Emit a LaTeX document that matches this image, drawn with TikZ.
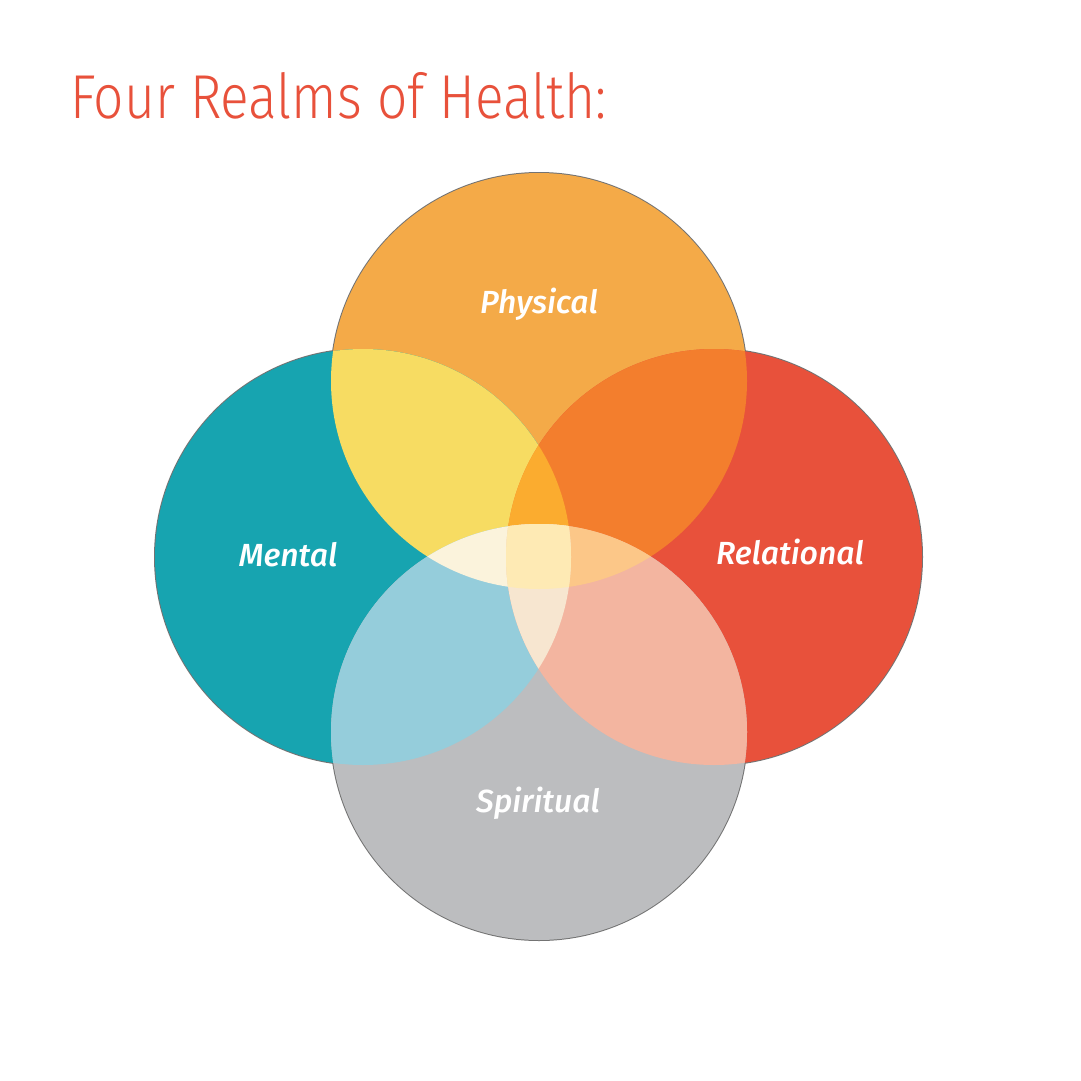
\documentclass[tikz,border=0pt]{standalone}
\usepackage{fontspec}
\usepackage{tikz}
\usepackage{xcolor}
\newfontfamily\titlefont{Fira Sans Light}[FakeStretch=0.86]
\newfontfamily\realmfont{Fira Sans Medium}
\definecolor{titlered}{HTML}{E8513B}
\definecolor{physcol}{HTML}{F4AA48}
\definecolor{mentcol}{HTML}{17A4B0}
\definecolor{relcol}{HTML}{E8513B}
\definecolor{spirincol}{HTML}{BCBDBF}
\definecolor{pmcol}{HTML}{F7DC62}
\definecolor{prcol}{HTML}{F37E2D}
\definecolor{mscol}{HTML}{95CDDB}
\definecolor{rscol}{HTML}{F3B5A0}
\definecolor{pmrcol}{HTML}{FBAC2F}
\definecolor{pmscol}{HTML}{FBF3DC}
\definecolor{prscol}{HTML}{FCC788}
\definecolor{mrscol}{HTML}{F7E6D0}
\definecolor{allcol}{HTML}{FEEAB4}
\newcommand{\rad}{208}

\begin{document}
\begin{tikzpicture}[x=1pt,y=-1pt,
    realm/.style={text=white, font=\realmfont\itshape\fontsize{32}{32}\selectfont, anchor=base}]
    \fill[white] (0,0) rectangle (1081,1081);
    \useasboundingbox (0,0) rectangle (1081,1081);

    % Centres of the four circles
    \coordinate (phys) at (539,381);
    \coordinate (ment) at (363,557);
    \coordinate (rel) at (714,557);
    \coordinate (spir) at (539,732);

    % Thin outer rims, then the plain circles
    \foreach \c in {phys,ment,rel,spir}
        \draw[gray!90!black, line width=2] (\c) circle (\rad);
    \foreach \c/\col in {phys/physcol,ment/mentcol,rel/relcol,spir/spirincol}
        \fill[\col] (\c) circle (\rad);

    % Overlap of two circles
    \foreach \a/\b/\col in {phys/ment/pmcol,phys/rel/prcol,ment/spir/mscol,rel/spir/rscol}
    {
        \begin{scope}
            \clip (\a) circle (\rad);
            \fill[\col] (\b) circle (\rad);
        \end{scope}
    }

    % Overlap of three circles
    \foreach \a/\b/\c/\col in {phys/ment/rel/pmrcol,phys/ment/spir/pmscol,phys/rel/spir/prscol,ment/rel/spir/mrscol}
    {
        \begin{scope}
            \clip (\a) circle (\rad);
            \clip (\b) circle (\rad);
            \fill[\col] (\c) circle (\rad);
        \end{scope}
    }

    % Centre: all four
    \begin{scope}
        \clip (phys) circle (\rad);
        \clip (ment) circle (\rad);
        \clip (rel) circle (\rad);
        \fill[allcol] (spir) circle (\rad);
    \end{scope}

    % Realm names
    \node[realm] (physname) at (539,313) {Physical};
    \node[realm] (mentname) at (288,566) {Mental};
    \node[realm] (relname) at (790,564) {Relational};
    \node[realm] (spirname) at (538,812) {Spiritual};

    % Title
    \node[anchor=base west, inner sep=0, text=titlered, font=\titlefont\fontsize{62}{62}\selectfont] (title) at (70,118) {Four Realms of Health:};
\end{tikzpicture}
\end{document}
